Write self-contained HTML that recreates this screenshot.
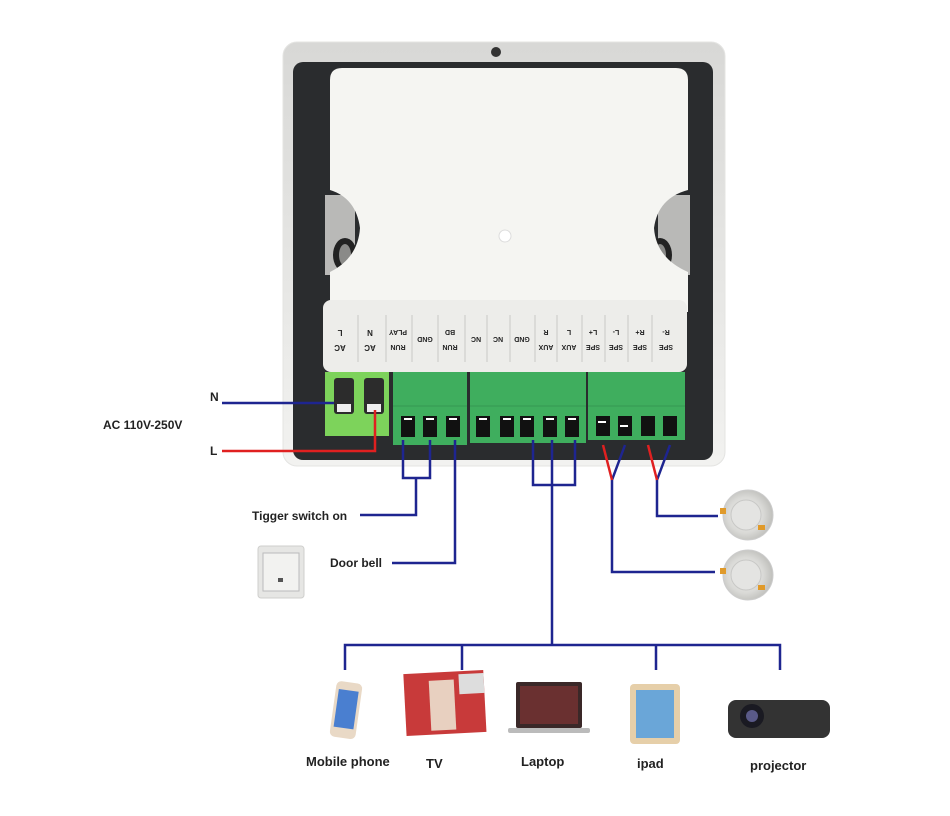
<!DOCTYPE html>
<html><head><meta charset="utf-8"><style>
html,body{margin:0;padding:0;background:#fff;width:950px;height:816px;overflow:hidden}
svg{display:block}
text{font-family:"Liberation Sans",sans-serif;font-weight:bold;fill:#222}
</style></head><body>
<svg width="950" height="816" viewBox="0 0 950 816" xmlns="http://www.w3.org/2000/svg">
<defs>
<linearGradient id="frame" x1="0" y1="0" x2="0" y2="1"><stop offset="0" stop-color="#d8d8d6"/><stop offset="1" stop-color="#f2f2f0"/></linearGradient>
<radialGradient id="spk" cx="0.45" cy="0.5" r="0.6"><stop offset="0" stop-color="#f4f4f2"/><stop offset="0.6" stop-color="#d9d9d6"/><stop offset="1" stop-color="#b8b8b4"/></radialGradient>
</defs>
<!-- device frame -->
<rect x="283" y="42" width="442" height="424" rx="14" fill="url(#frame)" stroke="#e4e4e2"/>
<rect x="293" y="62" width="420" height="398" rx="10" fill="#2a2c2e"/>
<!-- notch ears -->
<rect x="325" y="195" width="30" height="80" fill="#b9b9b7"/>
<rect x="658" y="195" width="32" height="80" fill="#b9b9b7"/>
<ellipse cx="345" cy="255" rx="12" ry="17" fill="#222"/><ellipse cx="345" cy="255" rx="6" ry="11" fill="#8a8a88"/>
<ellipse cx="660" cy="255" rx="12" ry="17" fill="#222"/><ellipse cx="660" cy="255" rx="6" ry="11" fill="#8a8a88"/>
<!-- white panel -->
<path d="M342 68 H676 Q688 68 688 80 V190 Q658 198 654 228 Q656 258 688 272 V312 H330 V272 Q358 258 360 228 Q356 198 330 190 V80 Q330 68 342 68 Z" fill="#f5f5f2"/>
<circle cx="505" cy="236" r="6" fill="#fff" stroke="#ddd"/>
<circle cx="496" cy="52" r="5" fill="#333"/>
<!-- label strip -->
<rect x="323" y="300" width="364" height="72" rx="8" fill="#ededea"/>
<g stroke="#c9c9c6" stroke-width="1">
<line x1="358" y1="315" x2="358" y2="362"/><line x1="386" y1="315" x2="386" y2="362"/><line x1="412" y1="315" x2="412" y2="362"/><line x1="438" y1="315" x2="438" y2="362"/><line x1="465" y1="315" x2="465" y2="362"/><line x1="487" y1="315" x2="487" y2="362"/><line x1="510" y1="315" x2="510" y2="362"/><line x1="535" y1="315" x2="535" y2="362"/><line x1="557" y1="315" x2="557" y2="362"/><line x1="582" y1="315" x2="582" y2="362"/><line x1="605" y1="315" x2="605" y2="362"/><line x1="628" y1="315" x2="628" y2="362"/><line x1="652" y1="315" x2="652" y2="362"/>
</g>
<g>
<text transform="translate(340,345) rotate(180)" text-anchor="middle" font-size="8">AC</text><text transform="translate(340,330) rotate(180)" text-anchor="middle" font-size="8">L</text>
<text transform="translate(370,345) rotate(180)" text-anchor="middle" font-size="8">AC</text><text transform="translate(370,330) rotate(180)" text-anchor="middle" font-size="8">N</text>
<text transform="translate(398,345) rotate(180)" text-anchor="middle" font-size="7">RUN</text><text transform="translate(398,330) rotate(180)" text-anchor="middle" font-size="7">PLAY</text>
<text transform="translate(425,337) rotate(180)" text-anchor="middle" font-size="7">GND</text>
<text transform="translate(450,345) rotate(180)" text-anchor="middle" font-size="7">RUN</text><text transform="translate(450,330) rotate(180)" text-anchor="middle" font-size="7">BD</text>
<text transform="translate(476,337) rotate(180)" text-anchor="middle" font-size="7">NC</text>
<text transform="translate(498,337) rotate(180)" text-anchor="middle" font-size="7">NC</text>
<text transform="translate(522,337) rotate(180)" text-anchor="middle" font-size="7">GND</text>
<text transform="translate(546,345) rotate(180)" text-anchor="middle" font-size="7">AUX</text><text transform="translate(546,330) rotate(180)" text-anchor="middle" font-size="7">R</text>
<text transform="translate(569,345) rotate(180)" text-anchor="middle" font-size="7">AUX</text><text transform="translate(569,330) rotate(180)" text-anchor="middle" font-size="7">L</text>
<text transform="translate(593,345) rotate(180)" text-anchor="middle" font-size="7">SPE</text><text transform="translate(593,330) rotate(180)" text-anchor="middle" font-size="7">L+</text>
<text transform="translate(616,345) rotate(180)" text-anchor="middle" font-size="7">SPE</text><text transform="translate(616,330) rotate(180)" text-anchor="middle" font-size="7">L-</text>
<text transform="translate(640,345) rotate(180)" text-anchor="middle" font-size="7">SPE</text><text transform="translate(640,330) rotate(180)" text-anchor="middle" font-size="7">R+</text>
<text transform="translate(666,345) rotate(180)" text-anchor="middle" font-size="7">SPE</text><text transform="translate(666,330) rotate(180)" text-anchor="middle" font-size="7">R-</text>
</g>
<!-- terminal blocks -->
<rect x="325" y="372" width="64" height="64" fill="#7dd35b"/>
<rect x="334" y="378" width="20" height="36" rx="3" fill="#2c2c2c"/><rect x="337" y="404" width="14" height="8" fill="#eee"/>
<rect x="364" y="378" width="20" height="36" rx="3" fill="#2c2c2c"/><rect x="367" y="404" width="14" height="8" fill="#eee"/>
<rect x="393" y="372" width="74" height="73" fill="#3fae5e"/>
<rect x="470" y="372" width="116" height="71" fill="#3fae5e"/>
<rect x="588" y="372" width="97" height="68" fill="#3fae5e"/>
<g fill="#3aa358"><rect x="393" y="405" width="74" height="2"/><rect x="470" y="405" width="116" height="2"/><rect x="588" y="405" width="97" height="2"/></g>
<g fill="#111">
<rect x="401" y="416" width="14" height="21"/><rect x="423" y="416" width="14" height="21"/><rect x="446" y="416" width="14" height="21"/>
<rect x="476" y="416" width="14" height="21"/><rect x="500" y="416" width="14" height="21"/><rect x="520" y="416" width="14" height="21"/><rect x="543" y="416" width="14" height="21"/><rect x="565" y="416" width="14" height="21"/>
<rect x="596" y="416" width="14" height="20"/><rect x="618" y="416" width="14" height="20"/><rect x="641" y="416" width="14" height="20"/><rect x="663" y="416" width="14" height="20"/>
</g>
<g fill="#fff"><rect x="404" y="418" width="8" height="2"/><rect x="426" y="418" width="8" height="2"/><rect x="449" y="418" width="8" height="2"/><rect x="479" y="418" width="8" height="2"/><rect x="503" y="418" width="8" height="2"/><rect x="523" y="418" width="8" height="2"/><rect x="546" y="418" width="8" height="2"/><rect x="568" y="418" width="8" height="2"/><rect x="598" y="421" width="8" height="2"/><rect x="620" y="425" width="8" height="2"/></g>
<!-- wires -->
<g fill="none" stroke="#1e2590" stroke-width="2.5">
<path d="M222 403 H334"/>
<path d="M403 440 V478 H430 V440 M416 478 V515 H360"/>
<path d="M455 440 V563 H392"/>
<path d="M533 440 V485 H575 V440 M552 440 V645"/>
<path d="M345 670 V645 H780 V670 M462 645 V670 M656 645 V670"/>
<path d="M625 445 L612 480 V572 H715"/>
<path d="M670 445 L657 480 V516 H718"/>
</g>
<g fill="none" stroke="#e02020" stroke-width="2.5">
<path d="M222 451 H375 V410"/>
<path d="M603 445 L612 480"/><path d="M648 445 L657 480"/>
</g>
<!-- labels -->
<text x="210" y="401" font-size="12">N</text>
<text x="103" y="429" font-size="12">AC 110V-250V</text>
<text x="210" y="455" font-size="12">L</text>
<text x="252" y="520" font-size="12">Tigger switch on</text>
<text x="330" y="567" font-size="12">Door bell</text>
<!-- doorbell switch -->
<rect x="258" y="546" width="46" height="52" rx="3" fill="#e6e6e4" stroke="#cfcfcd"/>
<rect x="263" y="553" width="36" height="38" fill="#f2f2f0" stroke="#bbb"/>
<rect x="278" y="578" width="5" height="4" fill="#555"/>
<!-- speakers -->
<g><circle cx="748" cy="515" r="25" fill="url(#spk)" stroke="#ccc"/><circle cx="746" cy="515" r="15" fill="#e4e4e2" stroke="#c8c8c6"/><rect x="720" y="508" width="6" height="6" fill="#e09a2a"/><rect x="758" y="525" width="7" height="5" fill="#e09a2a"/></g>
<g><circle cx="748" cy="575" r="25" fill="url(#spk)" stroke="#ccc"/><circle cx="746" cy="575" r="15" fill="#e4e4e2" stroke="#c8c8c6"/><rect x="720" y="568" width="6" height="6" fill="#e09a2a"/><rect x="758" y="585" width="7" height="5" fill="#e09a2a"/></g>
<!-- devices -->
<g transform="rotate(8 345 710)"><rect x="333" y="682" width="26" height="56" rx="5" fill="#e9d9c6"/><rect x="336" y="690" width="20" height="38" fill="#4a7fd0"/></g>
<g transform="rotate(-3 445 705)"><rect x="405" y="672" width="80" height="62" fill="#c83a3a"/><rect x="430" y="680" width="25" height="50" fill="#e8d0c0"/><rect x="460" y="675" width="25" height="20" fill="#ddd"/></g>
<rect x="516" y="682" width="66" height="46" rx="2" fill="#3a2828"/><rect x="520" y="686" width="58" height="38" fill="#6a3030"/><rect x="508" y="728" width="82" height="5" rx="2" fill="#bbb"/>
<rect x="630" y="684" width="50" height="60" rx="4" fill="#e6cfa9"/><rect x="636" y="690" width="38" height="48" fill="#6aa6d8"/>
<rect x="728" y="700" width="102" height="38" rx="8" fill="#333"/><circle cx="752" cy="716" r="12" fill="#1a1a22"/><circle cx="752" cy="716" r="6" fill="#5a5a88"/>
<text x="306" y="766" font-size="13">Mobile phone</text>
<text x="426" y="768" font-size="13">TV</text>
<text x="521" y="766" font-size="13">Laptop</text>
<text x="637" y="768" font-size="13">ipad</text>
<text x="750" y="770" font-size="13">projector</text>
</svg>
</body></html>
